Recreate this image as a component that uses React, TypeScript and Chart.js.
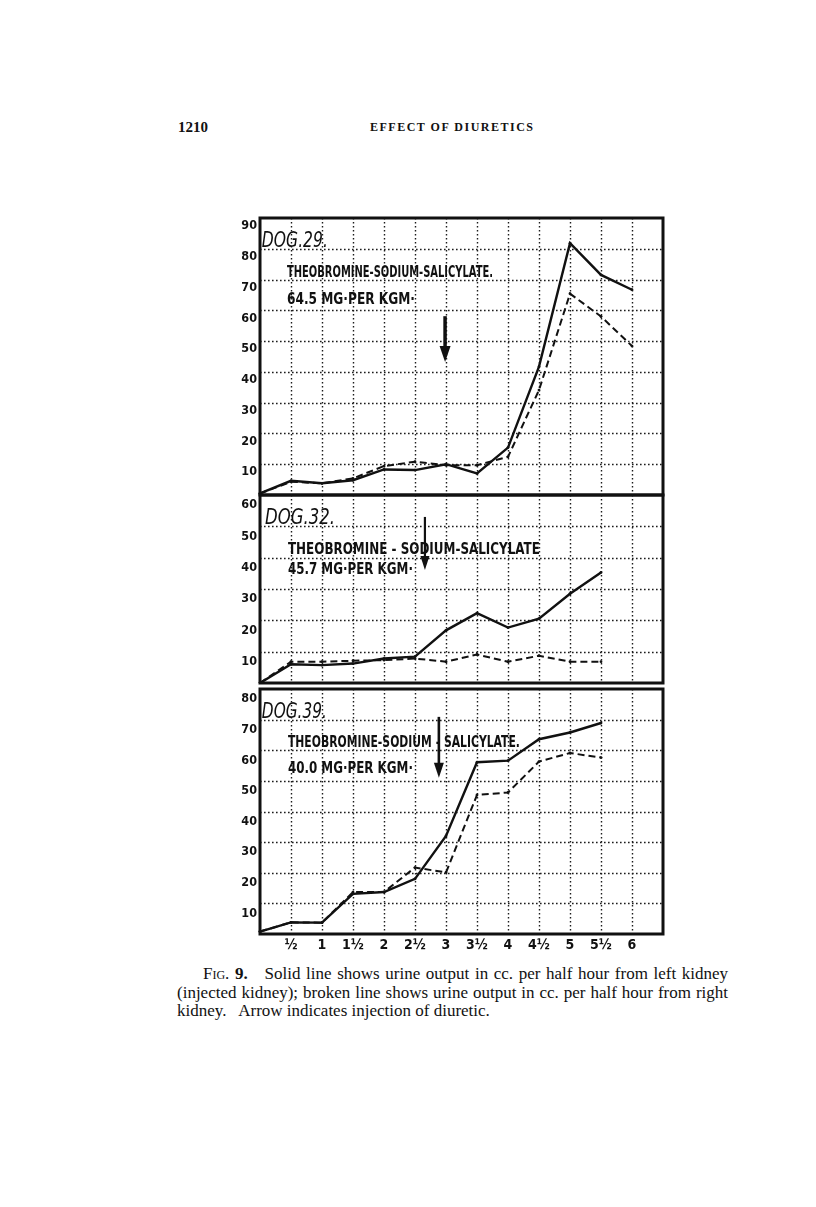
import React, { useEffect, useRef } from 'react';
import { Chart, registerables } from 'chart.js';

Chart.register(...registerables);

// ---- data ----
const xLabels = ['', '½', '1', '1½', '2', '2½', '3', '3½', '4', '4½', '5', '5½', '6', ''];

const dog29Solid = [0.5, 4.6, 3.8, 4.8, 8.3, 8.1, 10, 7, 15.4, 41.7, 81.8, 71.5, 66.7];
const dog29Dashed = [0.5, 4.3, 3.8, 5.4, 9.4, 10.8, 9.7, 9.7, 12.4, 34.1, 65.4, 58, 48.4];

const dog32Solid = [0, 6, 5.7, 6.2, 7.8, 8.4, 16.8, 22.3, 17.7, 20.5, 28.5, 35.3];
const dog32Dashed = [0, 6.8, 6.8, 7.1, 7.3, 7.8, 6.8, 9.1, 6.8, 8.7, 6.8, 6.8];

const dog39Solid = [0.8, 3.8, 3.7, 13.1, 13.7, 18, 32, 56.1, 56.6, 63.6, 65.8, 68.9];
const dog39Dashed = [0.8, 3.8, 3.7, 13.7, 13.7, 21.7, 20.1, 45.4, 46.2, 56.3, 59.1, 57.6];

const yTicks29 = [10, 20, 30, 40, 50, 60, 70, 80, 90];
const yTicks32 = [10, 20, 30, 40, 50, 60];
const yTicks39 = [10, 20, 30, 40, 50, 60, 70, 80];

const headerPage = '1210';
const headerTitle = 'EFFECT OF DIURETICS';

type TextItem = { text: string; x: number; y: number; font: string; maxWidth: number };
type ArrowSpec = { x: number; yTop: number; yBottom: number; shaft: number; headW: number; headL: number };

const decorPlugin = {
  id: 'panelDecor',
  beforeDatasetsDraw(chart: any, _args: any, opts: any) {
    const { ctx, chartArea: a, scales } = chart;
    const xs = scales.x;
    const ys = scales.y;
    ctx.save();
    ctx.strokeStyle = '#1c1c1c';
    ctx.lineWidth = 1.4;
    ctx.setLineDash([1.6, 2.4]);
    for (let i = 1; i < xLabels.length - 1; i++) {
      const px = Math.round(xs.getPixelForValue(i)) + 0.5;
      ctx.beginPath();
      ctx.moveTo(px, a.top);
      ctx.lineTo(px, a.bottom);
      ctx.stroke();
    }
    const ticks: number[] = opts.yTicks;
    for (const v of ticks) {
      if (v >= ys.max) continue;
      const py = Math.round(ys.getPixelForValue(v)) + 0.5;
      ctx.beginPath();
      ctx.moveTo(a.left, py);
      ctx.lineTo(a.right, py);
      ctx.stroke();
    }
    ctx.restore();
  },
  afterDatasetsDraw(chart: any, _args: any, opts: any) {
    const { ctx, chartArea: a, scales } = chart;
    const xs = scales.x;
    const ys = scales.y;
    ctx.save();
    // frame
    ctx.strokeStyle = '#111';
    ctx.lineWidth = 3;
    ctx.setLineDash([]);
    ctx.strokeRect(a.left, a.top, a.right - a.left, a.bottom - a.top);
    // texts
    ctx.fillStyle = '#111';
    ctx.textBaseline = 'middle';
    ctx.textAlign = 'left';
    const texts: TextItem[] = opts.texts || [];
    for (const t of texts) {
      ctx.font = t.font;
      ctx.fillText(t.text, xs.getPixelForValue(t.x), ys.getPixelForValue(t.y), t.maxWidth);
    }
    // arrow
    const ar: ArrowSpec = opts.arrow;
    if (ar) {
      const ax = xs.getPixelForValue(ar.x);
      const y1 = ys.getPixelForValue(ar.yTop);
      const y2 = ys.getPixelForValue(ar.yBottom);
      ctx.fillRect(ax - ar.shaft / 2, y1, ar.shaft, y2 - y1 - ar.headL + 2);
      ctx.beginPath();
      ctx.moveTo(ax - ar.headW / 2, y2 - ar.headL);
      ctx.lineTo(ax + ar.headW / 2, y2 - ar.headL);
      ctx.lineTo(ax, y2);
      ctx.closePath();
      ctx.fill();
    }
    ctx.restore();
  },
};

type PanelProps = {
  left: number;
  top: number;
  width: number;
  height: number;
  padTop: number;
  padBottom: number;
  padRight: number;
  solid: number[];
  dashed: number[];
  yMax: number;
  yTicks: number[];
  labelOffset: number;
  showX: boolean;
  texts: TextItem[];
  arrow: ArrowSpec;
};

function Panel(p: PanelProps) {
  const ref = useRef<HTMLCanvasElement>(null);
  useEffect(() => {
    if (!ref.current) return;
    const chart = new Chart(ref.current, {
      type: 'line',
      data: {
        labels: xLabels,
        datasets: [
          {
            data: p.solid,
            borderColor: '#111',
            backgroundColor: '#111',
            borderWidth: 2.4,
            pointRadius: 1.4,
            pointBackgroundColor: '#111',
            pointBorderWidth: 0,
            tension: 0,
            fill: false,
          },
          {
            data: p.dashed,
            borderColor: '#111',
            backgroundColor: '#111',
            borderWidth: 2,
            borderDash: [7, 4],
            pointRadius: 1.4,
            pointBackgroundColor: '#111',
            pointBorderWidth: 0,
            tension: 0,
            fill: false,
          },
        ],
      },
      options: {
        animation: false,
        responsive: false,
        maintainAspectRatio: false,
        layout: { padding: { top: p.padTop, bottom: p.padBottom, right: p.padRight, left: 0 } },
        plugins: {
          legend: { display: false },
          tooltip: { enabled: false },
          panelDecor: { texts: p.texts, arrow: p.arrow, yTicks: p.yTicks },
        } as any,
        scales: {
          x: {
            type: 'category',
            offset: false,
            display: p.showX,
            grid: { display: false, drawOnChartArea: false, drawTicks: false },
            border: { display: false },
            ticks: {
              autoSkip: false,
              maxRotation: 0,
              padding: 3,
              color: '#111',
              font: { family: '"DejaVu Sans Condensed", "DejaVu Sans"', size: 14, weight: 'bold' },
            },
            afterFit: (s: any) => {
              s.height = p.showX ? 24 : 0;
              s.paddingLeft = 0;
              s.paddingRight = 0;
            },
          },
          y: {
            type: 'linear',
            min: 0,
            max: p.yMax,
            grid: { display: false, drawTicks: false },
            border: { display: false },
            ticks: {
              stepSize: 10,
              padding: 3,
              labelOffset: p.labelOffset,
              color: '#111',
              font: { family: '"DejaVu Sans Condensed", "DejaVu Sans"', size: 12.5, weight: 'bold' },
              callback: (v: any) => (p.yTicks.includes(Number(v)) ? String(v) : ''),
            },
            afterFit: (s: any) => {
              s.width = 40;
              s.paddingTop = 0;
              s.paddingBottom = 0;
            },
          },
        },
      } as any,
      plugins: [decorPlugin],
    });
    return () => chart.destroy();
  }, []);
  return (
    <canvas
      ref={ref}
      width={p.width}
      height={p.height}
      style={{ position: 'absolute', left: p.left, top: p.top, width: p.width, height: p.height }}
    />
  );
}

const dogFont = 'italic 22px "DejaVu Sans Condensed", "DejaVu Sans"';
const titleFont = 'bold 16px "DejaVu Sans Condensed", "DejaVu Sans"';

export default function App() {
  return (
    <div style={{ position: 'absolute', left: 0, top: 0, width: 816, height: 1207, background: '#fff', color: '#111' }}>
      <div style={{ position: 'absolute', left: 178, top: 120, font: 'bold 15px "Liberation Serif"', lineHeight: '15px' }}>
        {headerPage}
      </div>
      <div
        style={{
          position: 'absolute',
          left: 370,
          top: 121,
          font: 'bold 12px "Liberation Serif"',
          lineHeight: '13px',
          letterSpacing: '1.5px',
          whiteSpace: 'nowrap',
        }}
      >
        {headerTitle}
      </div>

      <Panel
        left={220}
        top={208}
        width={460}
        height={295}
        padTop={10}
        padBottom={8}
        padRight={17}
        solid={dog29Solid}
        dashed={dog29Dashed}
        yMax={90}
        yTicks={yTicks29}
        labelOffset={8}
        showX={false}
        texts={[
          { text: 'DOG.29.', x: 0.06, y: 82.5, font: dogFont, maxWidth: 66 },
          { text: 'THEOBROMINE-SODIUM-SALICYLATE.', x: 0.87, y: 72.1, font: titleFont, maxWidth: 206 },
          { text: '64.5 MG·PER KGM·', x: 0.87, y: 63.3, font: titleFont, maxWidth: 128 },
        ]}
        arrow={{ x: 5.97, yTop: 58.1, yBottom: 43.2, shaft: 3.5, headW: 11, headL: 16 }}
      />
      <Panel
        left={220}
        top={485}
        width={460}
        height={206}
        padTop={10}
        padBottom={8}
        padRight={17}
        solid={dog32Solid}
        dashed={dog32Dashed}
        yMax={60}
        yTicks={yTicks32}
        labelOffset={10}
        showX={false}
        texts={[
          { text: 'DOG.32.', x: 0.16, y: 52.7, font: dogFont, maxWidth: 70 },
          { text: 'THEOBROMINE - SODIUM-SALICYLATE', x: 0.9, y: 42.5, font: titleFont, maxWidth: 252 },
          { text: '45.7 MG·PER KGM·', x: 0.9, y: 36.1, font: titleFont, maxWidth: 125 },
        ]}
        arrow={{ x: 5.32, yTop: 53, yBottom: 36.1, shaft: 2.2, headW: 9, headL: 14 }}
      />
      <Panel
        left={220}
        top={679}
        width={460}
        height={283}
        padTop={10}
        padBottom={4}
        padRight={17}
        solid={dog39Solid}
        dashed={dog39Dashed}
        yMax={80}
        yTicks={yTicks39}
        labelOffset={10}
        showX={true}
        texts={[
          { text: 'DOG.39.', x: 0.06, y: 72.5, font: dogFont, maxWidth: 65 },
          { text: 'THEOBROMINE-SODIUM - SALICYLATE.', x: 0.9, y: 62.4, font: titleFont, maxWidth: 232 },
          { text: '40.0 MG·PER KGM·', x: 0.9, y: 53.9, font: titleFont, maxWidth: 125 },
        ]}
        arrow={{ x: 5.77, yTop: 70.9, yBottom: 51, shaft: 2.6, headW: 10, headL: 15 }}
      />

      <div
        style={{
          position: 'absolute',
          left: 177,
          top: 965,
          width: 551,
          font: '17px "Liberation Serif"',
          lineHeight: '18.5px',
          color: '#111',
          whiteSpace: 'nowrap',
        }}
      >
        <div style={{ paddingLeft: 26, textAlign: 'justify', textAlignLast: 'justify' }}>
          <span style={{ fontVariant: 'small-caps' }}>Fig.</span> <b>9.</b>{'\u00a0\u00a0 '}Solid line shows urine output in cc. per half hour from left kidney
        </div>
        <div style={{ textAlign: 'justify', textAlignLast: 'justify' }}>
          (injected kidney); broken line shows urine output in cc. per half hour from right
        </div>
        <div>kidney.{'\u00a0\u00a0 '}Arrow indicates injection of diuretic.</div>
      </div>
    </div>
  );
}
